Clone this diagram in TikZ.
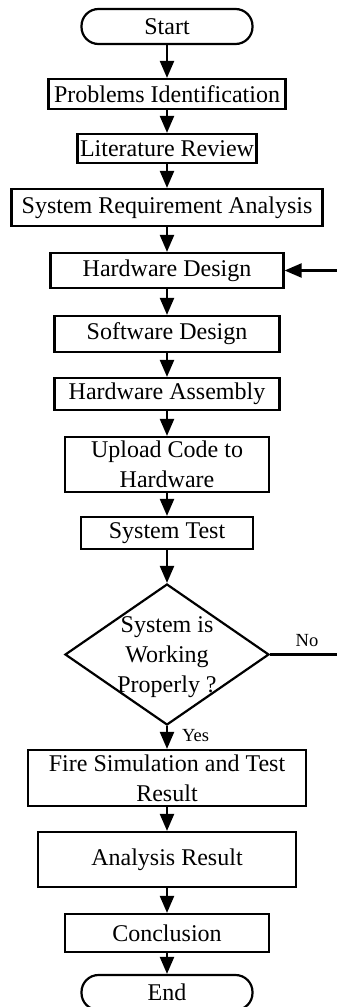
\documentclass[tikz,border=0pt]{standalone}
\usepackage{fontspec}
\setmainfont{Liberation Serif}
\usetikzlibrary{shapes.geometric,arrows.meta}
\begin{document}
\begin{tikzpicture}[x=1pt,y=-1pt,
  every node/.style={inner sep=0pt, align=center},
  txt/.style={font=\fontsize{24}{30}\selectfont},
  box/.style={txt, draw, line width=2.2pt, minimum width=#1},
  term/.style={box=#1, rounded corners=17pt, minimum height=35pt},
  decision/.style={draw, line width=2.2pt, diamond, minimum width=204pt, minimum height=141pt},
  lbl/.style={font=\fontsize{18.5}{20}\selectfont},
  flow/.style={line width=2.2pt, -{Triangle[length=17pt,width=14pt]}},
  plain/.style={line width=2.2pt}
]
\useasboundingbox (0,0) rectangle (337,1007);
\clip (0,0) rectangle (337,1007);

% process chain
\node[term=171pt] (start) at (167,26.5) {Start};
\node[box=237pt, minimum height=30pt] (prob) at (167,94) {Problems Identification};
\node[box=179pt, minimum height=29pt] (lit) at (167,148.5) {Literature Review};
\node[box=311pt, minimum height=37pt] (sra) at (167,207.5) {System Requirement Analysis};
\node[box=233pt, minimum height=35pt] (hwd) at (167,270.5) {Hardware Design};
\node[box=225pt, minimum height=36pt] (swd) at (167,334) {Software Design};
\node[box=225pt, minimum height=32pt] (hwa) at (167,394) {Hardware Assembly};
\node[box=204pt, minimum height=55pt] (upl) at (167,464.5) {Upload Code to\\Hardware};
\node[box=172pt, minimum height=32pt] (test) at (167,533) {System Test};
\node[decision] (dec) at (167,654.5) {};
\node[txt] (dectext) at (167,657) {System is\\Working\\Properly ?};
\node[box=278pt, minimum height=56pt] (fire) at (167,778) {Fire Simulation and Test\\Result};
\node[box=258pt, minimum height=55pt] (ana) at (167,859.5) {Analysis Result};
\node[box=204pt, minimum height=38pt] (conc) at (167,933) {Conclusion};
\node[term=171pt] (end) at (167,992.5) {End};

% connectors
\draw[flow] (start) -- (prob);
\draw[flow] (prob) -- (lit);
\draw[flow] (lit) -- (sra);
\draw[flow] (sra) -- (hwd);
\draw[flow] (hwd) -- (swd);
\draw[flow] (swd) -- (hwa);
\draw[flow] (hwa) -- (upl);
\draw[flow] (upl) -- (test);
\draw[flow] (test) -- (dec);
\draw[flow] (dec) -- (fire);
\draw[flow] (fire) -- (ana);
\draw[flow] (ana) -- (conc);
\draw[flow] (conc) -- (end);

% loop back on failure
\coordinate (noout) at (340,654.5);
\coordinate (fbin) at (340,270.5);
\draw[plain] (dec.east) -- (noout);
\draw[flow] (fbin) -- (hwd.east);

\node[lbl, anchor=west] (yes) at (182,736) {Yes};
\node[lbl] (no) at (307,641) {No};
\end{tikzpicture}
\end{document}
